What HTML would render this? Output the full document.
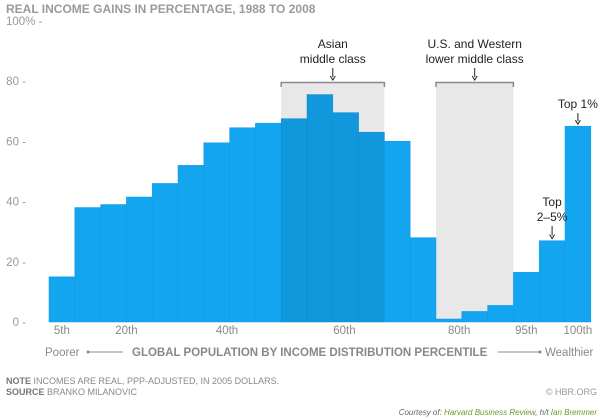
<!DOCTYPE html>
<html><head><meta charset="utf-8"><style>
body{margin:0;width:600px;height:419px;background:#fff;overflow:hidden;font-family:"Liberation Sans",sans-serif}
svg{display:block}
</style></head><body>
<svg width="600" height="419" id="chart">
<text x="6" y="13" font-size="12" font-weight="bold" fill="#9a9a9a">REAL INCOME GAINS IN PERCENTAGE, 1988 TO 2008</text>
<g id="shade"></g>
<g id="bars"></g>
<g id="axis"></g>
<g id="ann" font-size="12" fill="#222"></g>
<text x="45" y="356" font-size="11.5" fill="#888">Poorer</text>
<line x1="88" y1="352" x2="123" y2="352" stroke="#888"/>
<circle cx="88" cy="352" r="1.5" fill="#888"/>
<text x="132" y="356" font-size="11.5" font-weight="bold" fill="#888">GLOBAL POPULATION BY INCOME DISTRIBUTION PERCENTILE</text>
<line x1="498" y1="352" x2="540" y2="352" stroke="#888"/>
<circle cx="540" cy="352" r="1.5" fill="#888"/>
<text x="545" y="356" font-size="11.5" fill="#888">Wealthier</text>
<text x="6" y="384" font-size="9" fill="#888"><tspan font-weight="bold" fill="#777">NOTE</tspan> INCOMES ARE REAL, PPP-ADJUSTED, IN 2005 DOLLARS.</text>
<text x="6" y="395" font-size="9" fill="#888"><tspan font-weight="bold" fill="#777">SOURCE</tspan> BRANKO MILANOVIC</text>
<text x="597" y="395" font-size="9" fill="#999" text-anchor="end">© HBR.ORG</text>
<text x="597" y="415" font-size="8" font-style="italic" fill="#666" text-anchor="end">Courtesy of: <tspan fill="#6a9a2a">Harvard Business Review</tspan>, h/t <tspan fill="#6a9a2a">Ian Bremmer</tspan></text>
</svg>
<script>
const values=[15,38,39,41.5,46,52,59.5,64.5,66,67.5,75.5,69.5,63,60,28,1,3.5,5.5,16.5,27,65];
const yTicks=[0,20,40,60,80];
const xLabels=["5th","20th","40th","60th","80th","95th","100th"];
const xLabelBars=[0,2.5,6.4,10.95,15.4,18,20];
const asianRange=[9,12];
const westernRange=[15,17];
const NS="http://www.w3.org/2000/svg";
const x0=49,bw=25.8,y0=322,ppu=3.0125;
const X=i=>x0+i*bw, Y=v=>y0-v*ppu;
function mk(tag,attrs,parent){const e=document.createElementNS(NS,tag);for(const k in attrs)e.setAttribute(k,attrs[k]);document.getElementById(parent).appendChild(e);return e;}
[[asianRange,'asian-highlight'],[westernRange,'western-highlight']].forEach(([r,n])=>{
 const s=mk('rect',{x:X(r[0]),y:Y(79.5),width:X(r[1]+1)-X(r[0]),height:y0-Y(79.5),fill:'#e8e8e8'},'shade');
 
 
 const b=mk('path',{d:`M${X(r[0])},${Y(78)}V${Y(79.5)}H${X(r[1]+1)}V${Y(78)}`,fill:'none',stroke:'#888','stroke-width':1.5},'shade');
 
 
});
values.forEach((v,i)=>{
 const dark=i>=asianRange[0]&&i<=asianRange[1];
 const r=mk('rect',{x:X(i),y:Y(v),width:bw,height:y0-Y(v),fill:dark?'#1197dc':'#14a5f0',stroke:dark?'#0f8ccc':'#1298e0','stroke-width':0.5},'bars');
 
 
});
yTicks.forEach(t=>{
 const tx=mk('text',{x:26,y:Y(t)+4,'font-size':11.5,fill:'#999','text-anchor':'end'},'axis');tx.textContent=t+' -';
 
 
});
const t100=mk('text',{x:6,y:Y(100)+4,'font-size':11.5,fill:'#999'},'axis');t100.textContent='100% -';


xLabels.forEach((l,k)=>{
 const tx=mk('text',{x:X(xLabelBars[k])+bw/2,y:334,'font-size':11.5,fill:'#888','text-anchor':'middle'},'axis');tx.textContent=l;
 
 
});
function note(lines,cx,topY,arrowTo,name){
 lines.forEach((s,j)=>{const t=mk('text',{x:cx,y:topY+j*15,'text-anchor':'middle'},'ann');t.textContent=s;
  
  });
 const ay=topY+(lines.length-1)*15+5;
 const a=mk('path',{d:`M${cx},${ay}V${arrowTo-3}M${cx-2.5},${arrowTo-4}L${cx},${arrowTo}L${cx+2.5},${arrowTo-4}`,fill:'none',stroke:'#222','stroke-width':1},'ann');
 
 
}
note(['Asian','middle class'],(X(asianRange[0])+X(asianRange[1]+1))/2,48,80,'asian');
note(['U.S. and Western','lower middle class'],(X(westernRange[0])+X(westernRange[1]+1))/2,48,80,'western');
note(['Top 1%'],X(20)+bw/2,108,Y(values[20])-2,'top1');
note(['Top','2–5%'],X(19)+bw/2,206,Y(values[19])-2,'top2-5');
</script>
</body></html>
